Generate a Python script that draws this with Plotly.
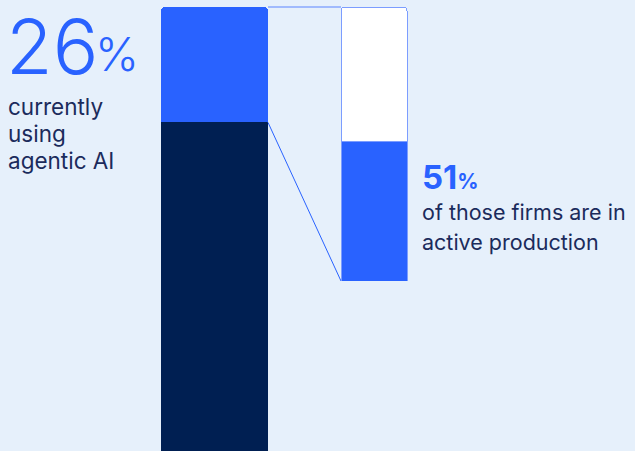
import plotly.graph_objects as go

# ---- data ----
overall_labels = ["Not using agentic AI", "Currently using agentic AI"]
overall_values = [74, 26]
subset_labels = ["In active production", "Not yet in production"]
subset_values = [51, 49]
headline_pct = 26
subset_pct = 51
headline_lines = ["currently", "using", "agentic AI"]
subset_lines = ["of those firms are in", "active production"]

# ---- layout constants ----
W, H = 635, 451
BLUE = "#2962ff"
NAVY = "#001f52"
BG = "#e6f0fb"
TEXT = "#1b2b5c"
FONT = "Inter"

big_x, big_w = 214.5, 107
small_x, small_w = 374, 66

# y axis: 100 -> pixel 7, 0 -> pixel 451
y_top_px, y_bot_px = 7, 451
px_per_unit = (y_bot_px - y_top_px) / 100.0
y_range = [0, y_bot_px / px_per_unit]
# y2 axis: small bar from pixel 281 to 7
y2_bot_px = 281
y2_px_per_unit = (y2_bot_px - y_top_px) / 100.0
y2_domain = [(H - y2_bot_px) / H, 1]
y2_range = [0, y2_bot_px / y2_px_per_unit]


def y2_to_y(v):
    px = y2_bot_px - v * y2_px_per_unit
    return (y_bot_px - px) / px_per_unit


fig = go.Figure()
fig.add_trace(go.Bar(x=[big_x], y=[overall_values[0]], width=[big_w], name=overall_labels[0],
                     marker=dict(color=NAVY, line=dict(width=0)), yaxis="y"))
fig.add_trace(go.Bar(x=[big_x], y=[overall_values[1]], width=[big_w], name=overall_labels[1],
                     marker=dict(color=BLUE, line=dict(width=0)), yaxis="y"))
fig.add_trace(go.Bar(x=[small_x], y=[subset_values[0]], width=[small_w], name=subset_labels[0],
                     marker=dict(color=BLUE, line=dict(width=1, color="#7c9dff")), yaxis="y2"))
fig.add_trace(go.Bar(x=[small_x], y=[subset_values[1]], width=[small_w], name=subset_labels[1],
                     marker=dict(color="white", line=dict(width=1, color="#7c9dff")), yaxis="y2"))

top_share = 100
bottom_share = 100 - overall_values[1]
big_right = big_x + big_w / 2
small_left = small_x - small_w / 2
fig.add_trace(go.Scatter(x=[big_right, small_left], y=[top_share, y2_to_y(100)], mode="lines",
                         line=dict(color="#5a84ff", width=1), hoverinfo="skip"))
fig.add_trace(go.Scatter(x=[big_right, small_left], y=[bottom_share, y2_to_y(0)], mode="lines",
                         line=dict(color=BLUE, width=1), hoverinfo="skip"))


def text_at(x_px, y_px, text, size, color, weight=400):
    fig.add_annotation(x=x_px / W, y=1 - y_px / H, xref="paper", yref="paper",
                       xanchor="left", yanchor="middle", text=text, showarrow=False,
                       align="left", borderpad=0,
                       font=dict(family=FONT, size=size, color=color, weight=weight))


text_at(5, 46, f"{headline_pct}", 76, BLUE, 350)
text_at(94, 53, "%", 47, BLUE, 300)
for i, line in enumerate(headline_lines):
    text_at(7, 106 + 27.5 * i, line, 22.5, TEXT)
text_at(421, 177, f"{subset_pct}<span style='font-size:21px'>%</span>", 33, BLUE, 700)
for i, line in enumerate(subset_lines):
    text_at(421, 212 + 30 * i, line, 21.5, TEXT)

fig.update_layout(
    width=W, height=H, margin=dict(l=0, r=0, t=0, b=0),
    paper_bgcolor=BG, plot_bgcolor="rgba(0,0,0,0)", showlegend=False, barmode="stack",
    barcornerradius=4,
    xaxis=dict(range=[0, W], visible=False, fixedrange=True),
    yaxis=dict(range=y_range, visible=False, domain=[0, 1]),
    yaxis2=dict(range=y2_range, visible=False, domain=y2_domain, anchor="x"),
)
fig.write_html("out.html")
